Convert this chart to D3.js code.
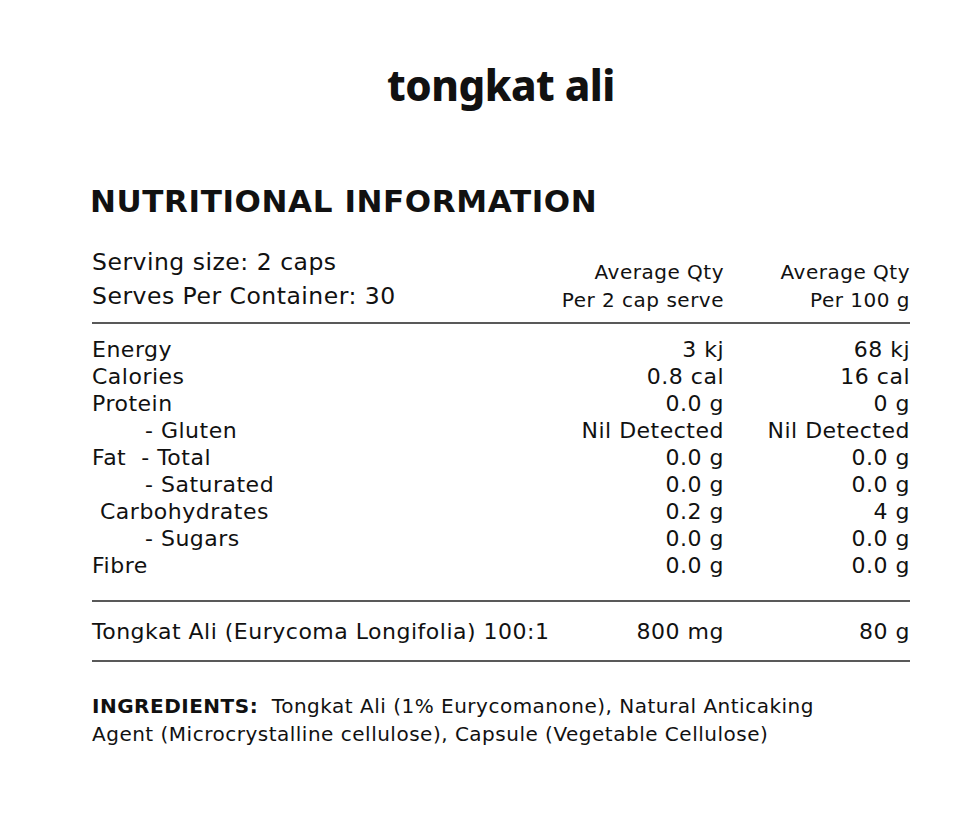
<!DOCTYPE html>
<html><head><meta charset="utf-8">
<script src="https://cdn.jsdelivr.net/npm/d3@7"></script>
<style>body{margin:0;background:#fff}</style>
</head><body>
<script>
const nutrients = ["Energy","Calories","Protein","- Gluten","Fat  - Total","- Saturated","Carbohydrates","- Sugars","Fibre"];
const indentLevel = [0,0,0,2,0,2,1,2,0];
const perServe = ["3 kj","0.8 cal","0.0 g","Nil Detected","0.0 g","0.0 g","0.2 g","0.0 g","0.0 g"];
const per100g = ["68 kj","16 cal","0 g","Nil Detected","0.0 g","0.0 g","4 g","0.0 g","0.0 g"];
const activeName = ["Tongkat Ali (Eurycoma Longifolia) 100:1"];
const activeServe = ["800 mg"];
const active100 = ["80 g"];

const F = "'DejaVu Sans', sans-serif";
const svg = d3.select("body").append("svg").attr("width",974).attr("height",823);
const col = "#111";
svg.append("text").attr("x",501).attr("y",101).attr("text-anchor","middle")
  .attr("font-family","'Noto Sans', sans-serif").attr("font-weight",800).attr("font-size",42)
  .attr("letter-spacing",-0.5).attr("fill",col).text("tongkat ali");
svg.append("text").attr("x",90).attr("y",212).attr("font-family",F).attr("font-weight",700)
  .attr("font-size",31).attr("letter-spacing",0.6).attr("fill",col).text("NUTRITIONAL INFORMATION");

const t = (x,y,s,anchor,size,w)=>svg.append("text").attr("x",x).attr("y",y).attr("text-anchor",anchor||"start")
  .attr("font-family",F).attr("font-size",size||23).attr("font-weight",w||400).attr("fill",col)
  .attr("letter-spacing",0.5).style("white-space","pre").text(s);

t(92,270,"Serving size: 2 caps","start",23.5);
t(92,304,"Serves Per Container: 30","start",23.5);
t(724,279,"Average Qty","end",20);t(724,307,"Per 2 cap serve","end",20);
t(910,279,"Average Qty","end",20);t(910,307,"Per 100 g","end",20);

const line = y=>svg.append("line").attr("x1",92).attr("x2",910).attr("y1",y).attr("y2",y).attr("stroke","#222").attr("stroke-width",1.3);
line(323);line(601);line(661);

const y = d3.scaleBand().domain(nutrients).range([336,579]);
nutrients.forEach((n,i)=>{
  const yy = y(n)+y.bandwidth()*0.78;
  t(92+[0,8,53][indentLevel[i]],yy,n,"start",22);
  t(724,yy,perServe[i],"end",22);
  t(910,yy,per100g[i],"end",22);
});
activeName.forEach((n,i)=>{
  t(92,639,n,"start",22);t(724,639,activeServe[i],"end",22);t(910,639,active100[i],"end",22);
});
const ing = svg.append("text").attr("x",92).attr("y",713).attr("font-family",F).attr("font-size",20).attr("letter-spacing",0.5).attr("fill",col).style("white-space","pre");
ing.append("tspan").attr("font-weight",700).text("INGREDIENTS:");
ing.append("tspan").text("  Tongkat Ali (1% Eurycomanone), Natural Anticaking");
t(92,741,"Agent (Microcrystalline cellulose), Capsule (Vegetable Cellulose)","start",20);
</script>
</body></html>
